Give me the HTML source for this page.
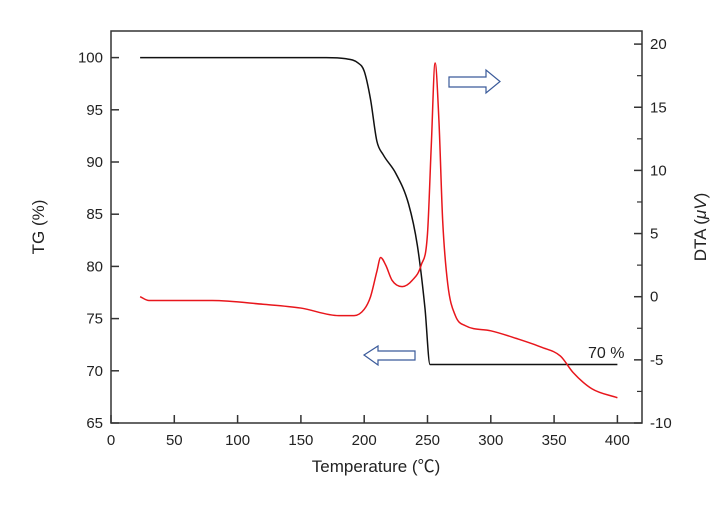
<!DOCTYPE html>
<html><head><meta charset="utf-8"><style>
body{margin:0;background:#fff;}
svg text{font-family:"Liberation Sans","Noto Sans CJK SC",sans-serif;fill:#222;}
</style></head><body>
<svg id="c" width="723" height="503">
<rect x="111" y="31" width="531" height="392" fill="none" stroke="#333" stroke-width="1.5"/>
<g id="ax"></g>
<path id="tg" fill="none" stroke="#111" stroke-width="1.5"/>
<path id="dta" fill="none" stroke="#e8161c" stroke-width="1.5"/>
<polygon points="364,355 378,346 378,351 415,351 415,360 378,360 378,365" fill="none" stroke="#3a5a9a" stroke-width="1.2"/>
<polygon points="449,77 486,77 486,70 500,81.5 486,93 486,87 449,87" fill="none" stroke="#3a5a9a" stroke-width="1.2"/>
<text x="588" y="358" font-size="16">70 %</text>
<text x="376" y="472" font-size="17" text-anchor="middle">Temperature (℃)</text>
<text transform="translate(44,227) rotate(-90)" font-size="17" text-anchor="middle">TG (%)</text>
<text transform="translate(706,227) rotate(-90)" font-size="17" text-anchor="middle">DTA (<tspan font-style="italic">μV</tspan>)</text>
</svg>
<script>
const xTicks=[0,50,100,150,200,250,300,350,400];
const tgTicks=[65,70,75,80,85,90,95,100];
const dtaTicks=[-10,-5,0,5,10,15,20];
const tgTemp=[23,170,185,195,200,205,210,215,225,235,242,248,252,400];
const tgVal=[100,100,99.9,99.5,98.7,96,92,90.7,88.9,86,82,76,70.6,70.6];
const dtaTemp=[23,30,50,80,120,150,180,192,200,205,210,213,217,222,230,238,245,250,253,256,259,262,266,272,280,300,320,340,355,365,380,400];
const dtaVal=[0,-0.3,-0.3,-0.3,-0.6,-0.9,-1.5,-1.5,-1.0,0,2,3.1,2.5,1.3,0.8,1.3,2.5,5,12,18.5,14,6,1,-1.5,-2.3,-2.7,-3.3,-4,-4.7,-6,-7.3,-8.0];
const X=v=>111+v*63.3/50;
const YL=v=>423-(v-65)*52.2/5;
const YR=v=>423-(v+10)*12.63;
const ns="http://www.w3.org/2000/svg";
const ax=document.getElementById('ax');
function mk(t,a,txt){const e=document.createElementNS(ns,t);for(const k in a)e.setAttribute(k,a[k]);if(txt!==undefined)e.textContent=txt;ax.appendChild(e);return e;}
xTicks.forEach(v=>{const x=X(v);
const t=mk('line',{x1:x,x2:x,y1:423,y2:415,stroke:'#333','stroke-width':1.5});


const l=mk('text',{x:x,y:445,'font-size':15,'text-anchor':'middle'},v);

});
tgTicks.forEach(v=>{const y=YL(v);
const t=mk('line',{x1:111,x2:119,y1:y,y2:y,stroke:'#333','stroke-width':1.5});


const l=mk('text',{x:103,y:y+5,'font-size':15,'text-anchor':'end'},v);

});
dtaTicks.forEach((v,i)=>{const y=YR(v);
const t=mk('line',{x1:634,x2:642,y1:y,y2:y,stroke:'#333','stroke-width':1.5});


if(i<dtaTicks.length-1){const ym=YR(v+2.5);const m=mk('line',{x1:637,x2:642,y1:ym,y2:ym,stroke:'#333','stroke-width':1.2});

}
const l=mk('text',{x:650,y:y+5,'font-size':15},v);

});
// monotone cubic interpolation (no overshoot)
function mono(xs,ys){const n=xs.length,d=[],m=[];
for(let i=0;i<n-1;i++)d.push((ys[i+1]-ys[i])/(xs[i+1]-xs[i]));
m[0]=d[0];m[n-1]=d[n-2];
for(let i=1;i<n-1;i++)m[i]=(d[i-1]*d[i]<=0)?0:(d[i-1]+d[i])/2;
for(let i=0;i<n-1;i++){if(d[i]===0){m[i]=0;m[i+1]=0;continue;}
const a=m[i]/d[i],b=m[i+1]/d[i],s=a*a+b*b;if(s>9){const t=3/Math.sqrt(s);m[i]=t*a*d[i];m[i+1]=t*b*d[i];}}
let p='M'+xs[0]+','+ys[0];
for(let i=0;i<n-1;i++){const h=(xs[i+1]-xs[i])/3;
p+=' C'+(xs[i]+h)+','+(ys[i]+m[i]*h)+' '+(xs[i+1]-h)+','+(ys[i+1]-m[i+1]*h)+' '+xs[i+1]+','+ys[i+1];}
return p;}
document.getElementById('tg').setAttribute('d',mono(tgTemp.map(X),tgVal.map(YL)));
document.getElementById('dta').setAttribute('d',mono(dtaTemp.map(X),dtaVal.map(YR)));
</script>
</body></html>
